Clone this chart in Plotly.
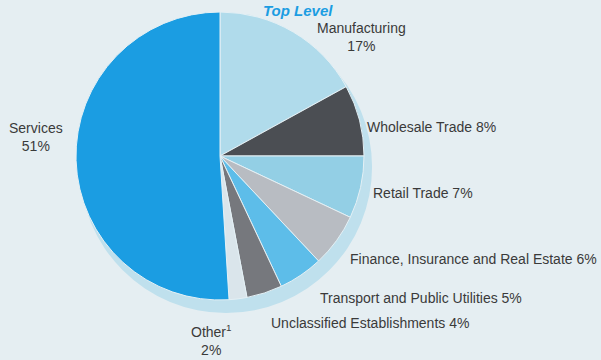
import plotly.graph_objects as go

# Sector shares of establishments (percent), clockwise from 12 o'clock
sectors = [
    "Manufacturing",
    "Wholesale Trade",
    "Retail Trade",
    "Finance, Insurance and Real Estate",
    "Transport and Public Utilities",
    "Unclassified Establishments",
    "Other<sup>1</sup>",
    "Services",
]
shares = [17, 8, 7, 6, 5, 4, 2, 51]
colors = ["#b0dbeb", "#4b4e53", "#93cfe5", "#b8bcc2", "#5dbde9", "#76787d", "#dae5eb", "#1b9de2"]

W, H = 601, 360
BG = "#e5eef2"
TXT = "#3a3a3a"
FONT = "Liberation Sans Narrow, Arial Narrow, sans-serif"


def px_x(x):
    return x / W


def px_y(y):
    return 1 - y / H


fig = go.Figure()

# light-blue rim giving the disc a raised look
fig.add_trace(go.Pie(
    values=[1], labels=["rim"], marker=dict(colors=["#bfe0ed"], line=dict(width=0)),
    textinfo="none", hoverinfo="skip", sort=False, showlegend=False,
    domain=dict(x=[px_x(80), px_x(372)], y=[px_y(313), px_y(21)]),
))

fig.add_trace(go.Pie(
    values=shares, labels=sectors, marker=dict(colors=colors, line=dict(color="#e4f0f5", width=1)),
    textinfo="none", sort=False, direction="clockwise", rotation=0, showlegend=False,
    domain=dict(x=[px_x(76), px_x(364)], y=[px_y(300), px_y(12)]),
))

# label placement (pixel centre, two-line flag)
label_pos = {
    "Manufacturing": (361, 37, True),
    "Wholesale Trade": (431, 127, False),
    "Retail Trade": (423, 193, False),
    "Finance, Insurance and Real Estate": (473, 259, False),
    "Transport and Public Utilities": (421, 298, False),
    "Unclassified Establishments": (370, 323, False),
    "Other<sup>1</sup>": (211, 340, True),
    "Services": (36, 137, True),
}

for name, val in zip(sectors, shares):
    x, y, two = label_pos[name]
    text = f"{name}<br>{val}%" if two else f"{name} {val}%"
    fig.add_annotation(
        x=px_x(x), y=px_y(y), xref="paper", yref="paper", text=text, showarrow=False,
        xanchor="center", yanchor="middle", align="center",
        font=dict(family=FONT, size=14, color=TXT),
    )

fig.add_annotation(
    x=px_x(298), y=px_y(0), xref="paper", yref="paper", text="<b><i>Top Level</i></b>",
    showarrow=False, xanchor="center", yanchor="top",
    font=dict(family=FONT, size=15, color="#1b9de2"),
)

fig.update_layout(
    width=W, height=H, margin=dict(l=0, r=0, t=0, b=0),
    paper_bgcolor=BG, plot_bgcolor=BG,
)

fig.write_html("out.html")
